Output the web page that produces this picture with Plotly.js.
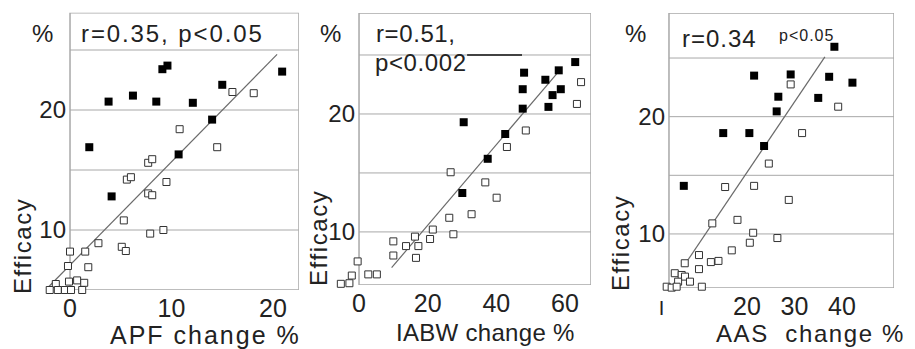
<!DOCTYPE html>
<html>
<head>
<meta charset="utf-8">
<script src="https://cdn.plot.ly/plotly-3.0.1.min.js"></script>
<style>html,body{margin:0;padding:0;background:#fff}#chart{width:915px;height:349px}</style>
</head>
<body>
<div id="chart"></div>
<script>
// ---- Panel 1: APF change % ----
var apfFilledX = [1.9, 4.1, 3.8, 6.2, 8.5, 9.1, 9.6, 12.1, 10.7, 14.0, 15.0, 20.9];
var apfFilledY = [16.9, 12.8, 20.7, 21.2, 20.7, 23.4, 23.7, 20.6, 16.3, 19.2, 22.1, 23.2];
var apfOpenX = [16.0, 18.1, 10.8, 14.5, 7.7, 8.1, 5.6, 6.0, 9.5, 7.7, 8.1, 5.3, 9.2, 7.9, 2.8, 5.1, 5.5, 0.0, 1.5, -0.2, 1.8, -1.4, -0.1, 0.7, 1.4, -2.0, -1.2, -0.5, 0.1, 1.2];
var apfOpenY = [21.5, 21.4, 18.4, 16.9, 15.6, 15.9, 14.2, 14.4, 14.0, 13.05, 12.9, 10.8, 10.0, 9.7, 8.9, 8.6, 8.25, 8.2, 8.2, 7.0, 6.9, 5.5, 5.7, 5.8, 5.6, 5.0, 5.0, 5.0, 5.0, 5.0];
var apfFitX = [-2.1, 20.4];
var apfFitY = [5.27, 24.64];

// ---- Panel 2: IABW change % ----
var iabwFilledX = [48.1, 63.0, 58.2, 54.3, 47.7, 58.8, 56.4, 47.7, 55.2, 30.5, 42.6, 37.5, 30.1];
var iabwFilledY = [23.5, 24.4, 23.7, 22.9, 22.1, 22.1, 21.6, 20.45, 20.6, 19.3, 18.3, 16.2, 13.3];
var iabwOpenX = [64.7, 63.5, 48.6, 43.1, 26.7, 36.8, 40.1, 26.3, 32.8, 27.5, 21.5, 20.7, 16.3, 17.3, 13.7, 10.0, 10.0, 16.6, -0.4, -2.1, 2.7, 5.2, -2.8, -5.3];
var iabwOpenY = [22.7, 20.85, 18.6, 17.2, 15.06, 14.2, 12.9, 11.2, 11.5, 9.8, 10.2, 9.4, 9.6, 8.8, 8.8, 9.2, 8.0, 7.8, 7.5, 6.3, 6.4, 6.4, 5.65, 5.6];
var iabwFitX = [9.5, 57.6];
var iabwFitY = [6.97, 23.4];

// ---- Panel 3: AAS change % ----
var aasFilledX = [38.4, 21.5, 29.2, 37.3, 42.2, 26.6, 35.0, 26.25, 15.0, 20.5, 23.6, 6.7];
var aasFilledY = [25.96, 23.5, 23.6, 23.4, 22.9, 21.7, 21.6, 20.45, 18.6, 18.6, 17.5, 14.1];
var aasOpenX = [29.2, 39.2, 31.6, 24.6, 15.4, 21.5, 28.8, 12.7, 18.0, 21.3, 20.6, 26.4, 16.8, 9.9, 12.4, 14.0, 6.9, 9.9, 4.8, 6.25, 6.95, 8.0, 5.5, -1.1, 0.3, 1.7, 3.1, 4.15, 5.2, 6.25, 7.3, 8.35, 9.4, 10.5];
var aasOpenY = [22.75, 20.85, 18.6, 16.0, 14.0, 14.1, 12.9, 10.9, 11.2, 10.1, 9.25, 9.65, 8.6, 8.2, 7.6, 7.7, 7.5, 7.0, 6.65, 6.5, 6.36, 5.93, 5.93, 5.22, 5.37, 5.37, 5.5, 5.42, 5.5, 5.37, 5.37, 5.37, 5.37, 5.5];
var aasFitX = [6.6, 36.4];
var aasFitY = [7.2, 25.1];

// tick labels
var xTicks1 = [0, 10, 20], xText1 = ["0", "10", "20"];
var xTicks2 = [0, 20, 40, 60], xText2 = ["0", "20", "40", "60"];
var xTicks3 = [2, 20, 30, 40], xText3 = ['<span style="font-size:20px">I</span>', "20", "30", "40"];
var yTicks = [10, 20], yText = ["10", "20"];
var gridVals = [10, 15, 20, 25];

var FONT = "Liberation Sans, Arial, sans-serif";
var TXT = "#222";
var GRID = "#a8a8a8";

function panel(n, fx, fy, ox, oy, lx, ly) {
  var xa = n === 1 ? "x" : "x" + n, ya = n === 1 ? "y" : "y" + n;
  return [
    {x: lx, y: ly, xaxis: xa, yaxis: ya, mode: "lines", line: {color: "#6a6a6a", width: 1.2}, hoverinfo: "skip"},
    {x: ox, y: oy, xaxis: xa, yaxis: ya, mode: "markers", cliponaxis: false,
     marker: {symbol: "square", size: 7, color: "#fff", line: {color: "#333", width: 1}}},
    {x: fx, y: fy, xaxis: xa, yaxis: ya, mode: "markers", cliponaxis: false,
     marker: {symbol: "square", size: 8, color: "#000", line: {color: "#000", width: 0}}}
  ];
}

var data = [].concat(
  panel(1, apfFilledX, apfFilledY, apfOpenX, apfOpenY, apfFitX, apfFitY),
  panel(2, iabwFilledX, iabwFilledY, iabwOpenX, iabwOpenY, iabwFitX, iabwFitY),
  panel(3, aasFilledX, aasFilledY, aasOpenX, aasOpenY, aasFitX, aasFitY)
);

// panel geometry
var P = [
  {xr: [-2.7, 22.55], yr: [5.0, 28.1], xd: [0.04656, 0.32667], yd: [0.16905, 0.96332], boxL: 0, ypos: 0.07650, xt: xTicks1, xtt: xText1},
  {xr: [-7, 67.6], yr: [5.5, 28.56], xd: [0.36612, 0.64590], yd: [0.18338, 0.96275], boxL: 0, ypos: 0.39235, xt: xTicks2, xtt: xText2},
  {xr: [-2.5, 50.95], yr: [5.39, 28.84], xd: [0.69956, 0.97705], yd: [0.17479, 0.96275], boxL: 3.58, ypos: 0.73115, xt: xTicks3, xtt: xText3}
];

var layout = {
  width: 915, height: 349,
  margin: {l: 0, r: 0, t: 0, b: 0},
  paper_bgcolor: "#fff", plot_bgcolor: "rgba(0,0,0,0)",
  showlegend: false,
  font: {family: FONT, color: TXT, size: 24},
  shapes: [], annotations: []
};

P.forEach(function (p, i) {
  var n = i + 1, sx = n === 1 ? "" : String(n);
  var xa = "x" + sx, ya = "y" + sx;
  layout["xaxis" + sx] = {
    domain: p.xd, range: p.xr, anchor: ya, showgrid: false, zeroline: false, showline: false,
    tickmode: "array", tickvals: p.xt, ticktext: p.xtt, ticks: "", ticklabelstandoff: 1,
    tickfont: {family: FONT, size: 25, color: TXT}, fixedrange: true
  };
  layout["yaxis" + sx] = {
    domain: p.yd, range: p.yr, anchor: "free", position: p.ypos, showgrid: false, zeroline: false, showline: false,
    tickmode: "array", tickvals: yTicks, ticktext: yText, ticks: "", ticklabelstandoff: 4,
    tickfont: {family: FONT, size: 24, color: TXT}, fixedrange: true
  };
  gridVals.forEach(function (g) {
    layout.shapes.push({type: "line", xref: xa, yref: ya, x0: p.boxL, x1: p.xr[1], y0: g, y1: g, line: {color: GRID, width: 1}, layer: "below"});
  });
  layout.shapes.push({type: "rect", xref: xa, yref: ya, x0: p.boxL, x1: p.xr[1], y0: p.yr[0], y1: p.yr[1], line: {color: GRID, width: 1.5}, layer: "below"});
});

// dark segment next to p<0.002
layout.shapes.push({type: "line", xref: "x2", yref: "y2", x0: 31.5, x1: 47.5, y0: 25, y1: 25, line: {color: "#111", width: 1.5}});

function sp(text, ls) { return '<span style="letter-spacing:' + ls + 'px">' + text + '</span>'; }
function ann(x, y, text, opts) {
  var a = {xref: "paper", yref: "paper", x: x / 915, y: 1 - y / 349, text: text, showarrow: false,
           xanchor: "center", yanchor: "middle", font: {family: FONT, size: 24, color: TXT}};
  for (var k in opts) a[k] = opts[k];
  layout.annotations.push(a);
}
// headers
ann(42, 33, "%");
ann(79, 33, sp("r=0.35, p<0.05", 1.9), {xanchor: "left"});
ann(330, 33, "%");
ann(374, 33, sp("r=0.51,", 0.6), {xanchor: "left"});
ann(373, 63, sp("p<0.002", 0.6), {xanchor: "left"});
ann(635, 33, "%");
ann(680, 38, sp("r=0.34", 1), {xanchor: "left"});
ann(777, 35, sp("p<0.05", 1), {xanchor: "left", font: {family: FONT, size: 16, color: TXT}});
// y titles
ann(22, 246, sp("Efficacy", 1.6), {textangle: -90});
ann(318, 238, sp("Efficacy", 1.6), {textangle: -90});
ann(620, 243, sp("Efficacy", 1.6), {textangle: -90});
// x titles
ann(205, 335, sp("APF change %", 2.0), {font: {family: FONT, size: 25, color: TXT}});
ann(486, 332, sp("IABW change %", 0.3));
ann(810, 333, sp("AAS&nbsp; change %", 1.6));

Plotly.newPlot("chart", data, layout, {staticPlot: true, displayModeBar: false});
</script>
</body>
</html>
